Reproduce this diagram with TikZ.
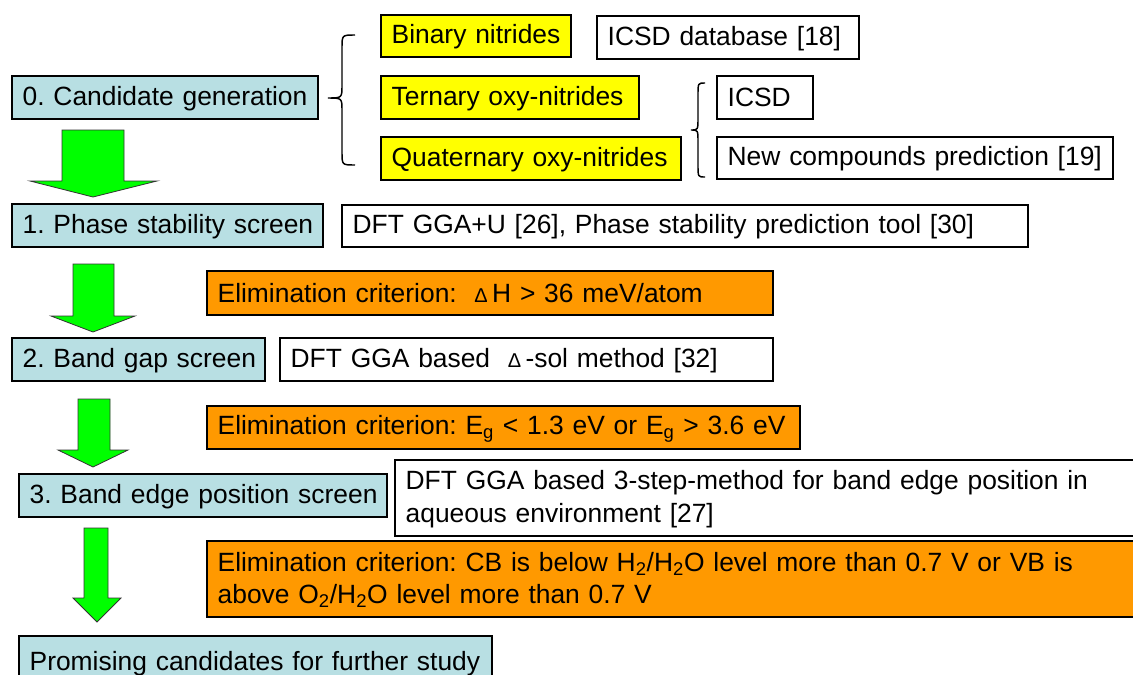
\documentclass[tikz,border=0pt]{standalone}
\usepackage{fontspec}
\setmainfont{Liberation Sans}
\frenchspacing

\definecolor{stageblue}{RGB}{184,223,227}
\definecolor{critorange}{RGB}{255,153,0}
\definecolor{famyellow}{RGB}{255,255,0}
\definecolor{arrowgreen}{RGB}{0,255,0}

% small delta used inside the criterion texts
\newcommand\dlt{{\fontsize{15}{15}\selectfont Δ}}
% strut that balances the line around the box centre
\newcommand\ppstrut{\rule[-0.1em]{0pt}{0.9em}}

% box node given by its pixel corners: name, x1, y1, x2, y2, style, text
\newcommand\pbox[7]{%
  \pgfmathsetmacro\pbw{(#4-#2)*0.75}%
  \pgfmathsetmacro\pbh{(#5-#3)*0.75}%
  \pgfmathsetmacro\pbt{\pbw-16}%
  \node[#6, anchor=north west, minimum width=\pbw pt, minimum height=\pbh pt,
        text width=\pbt pt] (#1) at (#2,#3) {\ppstrut#7\ppstrut};%
}

% broad block arrow: shaft x1, x2, top y, head x1, x2, base y, tip x, tip y
\newcommand\blockarrow[8]{%
  \draw[flowarrow] (#1,#3) -- (#2,#3) -- (#2,#6) -- (#5,#6) -- (#7,#8)
        -- (#4,#6) -- (#1,#6) -- cycle;%
}

% left curly brace: end x, spine x, tip x, top y, middle y, bottom y, curl
\newcommand\curlybrace[7]{%
  \draw[bracestyle] (#1,#4) .. controls (#2,#4) .. (#2,#4+#7)
     -- (#2,#5-#7) .. controls (#2,#5) .. (#3,#5)
     .. controls (#2,#5) .. (#2,#5+#7)
     -- (#2,#6-#7) .. controls (#2,#6) .. (#1,#6);%
}

\tikzset{
  basebox/.style={draw=black, line width=1.5pt, inner xsep=8pt, inner ysep=0pt,
    outer sep=0pt, align=left, font=\fontsize{19.8}{24.5}\selectfont},
  stagebox/.style={basebox, fill=stageblue},
  familybox/.style={basebox, fill=famyellow},
  sourcebox/.style={basebox, fill=white},
  critbox/.style={basebox, fill=critorange},
  flowarrow/.style={fill=arrowgreen, draw=black!80, line width=0.6pt, line join=miter},
  bracestyle/.style={draw=black, line width=1.1pt}
}

\begin{document}
\begin{tikzpicture}[x=0.75pt,y=-0.75pt]
\useasboundingbox (0,0) rectangle (1133,675);
\clip (0,0) rectangle (1133,675);

% stage 0 and the candidate families
\pbox{cand}{12}{76}{318}{119}{stagebox}{\mbox{0. Candidate generation}}
\pbox{binary}{381}{15}{571}{57}{familybox}{\mbox{Binary nitrides}}
\pbox{icsddb}{597}{16}{859}{59}{sourcebox}{\mbox{ICSD database [18]}}
\pbox{ternary}{381}{76}{639}{119}{familybox}{\mbox{Ternary oxy-nitrides}}
\pbox{quat}{381}{137}{681}{180}{familybox}{\mbox{Quaternary oxy-nitrides}}
\pbox{icsd}{717}{76}{813}{119}{sourcebox}{\mbox{ICSD}}
\pbox{newcomp}{717}{137}{1113}{179}{sourcebox}{\mbox{New compounds prediction [19]}}

\curlybrace{355}{342}{328}{35}{98}{165}{13}
\curlybrace{705}{698}{691}{83}{130}{177}{12}

% stage 1
\pbox{phase}{12}{204}{323}{247}{stagebox}{\mbox{1. Phase stability screen}}
\pbox{dftu}{342}{205}{1028}{247}{sourcebox}{\mbox{DFT GGA+U [26], Phase stability prediction tool [30]}}
\pbox{elimA}{207}{271}{773}{315}{critbox}{\mbox{Elimination criterion:\ \ \dlt\,H > 36 meV/atom}}

% stage 2
\pbox{gap}{12}{338}{265}{381}{stagebox}{\mbox{2. Band gap screen}}
\pbox{dsol}{280}{338}{773}{381}{sourcebox}{\mbox{DFT GGA based\ \ \dlt\,-sol method [32]}}
\pbox{elimB}{207}{406}{800}{449}{critbox}{\mbox{Elimination criterion: E\textsubscript{g} < 1.3 eV or E\textsubscript{g} > 3.6 eV}}

% stage 3
\pbox{edge}{19}{474}{387}{517}{stagebox}{\mbox{3. Band edge position screen}}
\pbox{threestep}{395}{460}{1145}{536}{sourcebox}{\mbox{DFT GGA based 3-step-method for band edge position in}\\\mbox{aqueous environment [27]}}
\pbox{elimC}{207}{541}{1145}{617}{critbox}{\mbox{Elimination criterion: CB is below H\textsubscript{2}/H\textsubscript{2}O level more than 0.7 V or VB is}\\\mbox{above O\textsubscript{2}/H\textsubscript{2}O level more than 0.7 V}}

% result
\pbox{prom}{19}{636}{492}{690}{stagebox}{\mbox{Promising candidates for further study}}

% flow arrows between the stages
\blockarrow{62}{124}{130}{30}{157}{181}{93}{197}
\blockarrow{73}{114}{264}{51}{135}{316}{93}{332}
\blockarrow{78}{110}{399}{58}{128}{450}{93}{467}
\blockarrow{84}{108}{528}{73}{121}{598}{97}{622}
\end{tikzpicture}
\end{document}
